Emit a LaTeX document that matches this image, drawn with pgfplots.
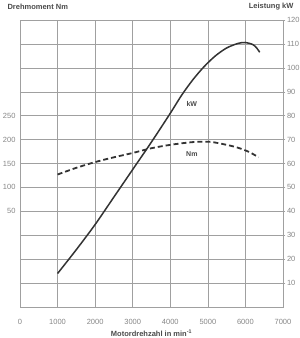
\documentclass[border=0pt]{standalone}
\usepackage{fontspec}
\setmainfont{Liberation Sans}
\usepackage{pgfplots}
\pgfplotsset{compat=1.18}
\definecolor{gridc}{HTML}{A0A0A0}
\definecolor{tickc}{HTML}{858585}
\definecolor{curve}{HTML}{333333}
\definecolor{titlec}{HTML}{4A4A4A}
\begin{document}
\begin{tikzpicture}
\path[use as bounding box] (-20pt,-31pt) rectangle (280pt,307pt);
\begin{axis}[
 at={(0,0)}, anchor=south west,
 width=263pt, height=287pt, scale only axis,
 clip=false,
 xmin=0, xmax=7000, ymin=0, ymax=120,
 xtick={0,1000,...,7000}, ytick={10,20,...,120},
 yticklabel pos=right, ytick pos=right,
 grid=major, major grid style={gridc, line width=0.5pt},
 axis line style={gridc, line width=0.5pt},
 ytick style={gridc, line width=0.5pt},
 xtick style={draw=none},
 tick align=outside, major tick length=2.5pt,
 ticklabel style={font=\fontsize{7.5}{8}\selectfont, text=tickc},
 /pgf/number format/1000 sep={},
 /pgf/number format/assume math mode=true,
 xticklabel style={yshift=-6pt},
 yticklabel style={xshift=-2pt},
 xlabel={\textbf{Motordrehzahl in min\textsuperscript{-1}}},
 xlabel style={at={(axis description cs:0.5,0)}, anchor=center, yshift=-26pt, font=\fontsize{7.5}{8}\selectfont, text=titlec},
]
\addplot[curve, line width=1.5pt, smooth] coordinates {
(1000,14) (1500,24) (2000,34.5) (2500,46) (3000,57.5) (3500,69) (4000,81)
(4300,88.5) (4600,95) (4900,100.5) (5200,105) (5500,108.3) (5800,110.2)
(6000,110.6) (6200,109.7) (6300,108.3) (6380,106.5)};
\node[font=\bfseries\fontsize{7}{8}\selectfont, text=titlec] at (axis cs:4574,84.7) {kW};
\node[font=\bfseries\fontsize{7}{8}\selectfont, text=titlec] at (axis cs:4574,63.8) {Nm};
\node[anchor=west, font=\bfseries\fontsize{7.5}{8}\selectfont, text=titlec, xshift=-16pt, yshift=13pt] at (rel axis cs:0,1) {Drehmoment Nm};
\node[anchor=east, font=\bfseries\fontsize{7.5}{8}\selectfont, text=titlec, xshift=14pt, yshift=13.5pt] at (rel axis cs:1,1) {Leistung kW};
\end{axis}
\begin{axis}[
 at={(0,0)}, anchor=south west,
 width=263pt, height=287pt, scale only axis,
 xmin=0, xmax=7000, ymin=-150, ymax=450,
 hide x axis, axis y line*=left,
 axis line style={draw=none},
 ytick={50,100,...,250}, ytick style={draw=none},
 ticklabel style={font=\fontsize{7.5}{8}\selectfont, text=tickc},
 /pgf/number format/assume math mode=true,
 yticklabel style={xshift=-1pt},
]
\addplot[curve, line width=1.8pt, smooth, dash pattern=on 5pt off 3pt] coordinates {
(1000,127) (1500,141) (2000,153) (2500,163) (3000,172) (3500,182) (4000,189)
(4500,194) (4800,195.5) (5100,195) (5500,189) (5800,183) (6100,174) (6350,163)};
\end{axis}
\end{tikzpicture}
\end{document}
